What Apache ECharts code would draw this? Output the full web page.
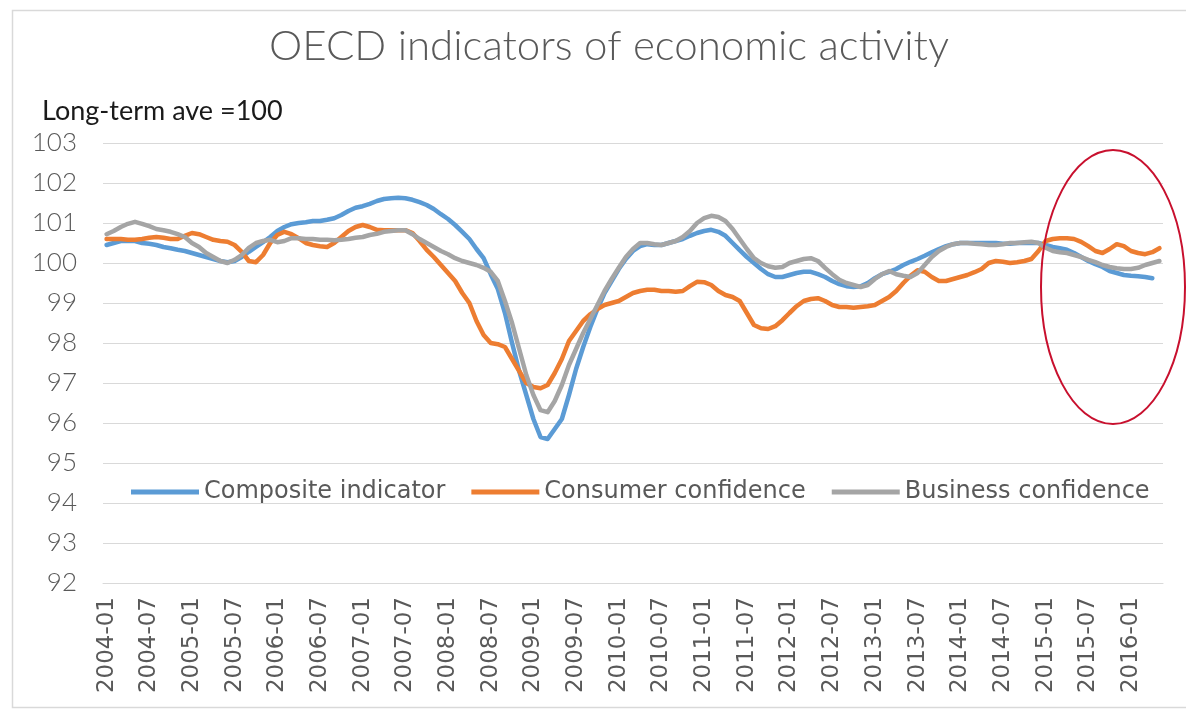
<!DOCTYPE html>
<html>
<head>
<meta charset="utf-8">
<title>OECD indicators of economic activity</title>
<script src="https://cdn.jsdelivr.net/npm/echarts@6/dist/echarts.min.js"></script>
<style>
  html, body { margin: 0; padding: 0; background: #fff; }
  #echar { width: 1186px; height: 719px; }
</style>
</head>
<body>
<div id="echar"></div>
<script>
// monthly, 2004-01 .. 2016-05
const startYear = 2004
const monthCount = 149
const months = []
for (let i = 0; i < monthCount; i++) {
  const y = startYear + Math.floor(i / 12)
  const m = (i % 12) + 1
  months.push(y + '-' + (m < 10 ? '0' + m : m))
}

const seriesNames = ['Composite indicator', 'Consumer confidence', 'Business confidence']

const composite = [
  100.45, 100.5, 100.55, 100.55, 100.55, 100.5, 100.48, 100.45, 100.4, 100.37, 100.33, 100.3,
  100.25, 100.2, 100.15, 100.1, 100.05, 100.02, 100.05, 100.15, 100.28, 100.4, 100.52, 100.65,
  100.8, 100.9, 100.97, 101.0, 101.02, 101.05, 101.05, 101.08, 101.12, 101.2, 101.3, 101.38,
  101.42, 101.48, 101.55, 101.6, 101.62, 101.63, 101.62, 101.58, 101.52, 101.45, 101.35, 101.22,
  101.1, 100.95, 100.78, 100.6, 100.35, 100.12, 99.72, 99.35, 98.75, 98.0, 97.3, 96.7,
  96.1, 95.65, 95.6, 95.85, 96.1, 96.7, 97.35, 97.9, 98.4, 98.85, 99.25, 99.55,
  99.85, 100.1, 100.3, 100.42, 100.47, 100.45, 100.45, 100.5, 100.55, 100.6, 100.68, 100.75,
  100.8, 100.83, 100.78, 100.68, 100.5, 100.32, 100.15, 100.0, 99.85, 99.72, 99.65, 99.65,
  99.7, 99.75, 99.78, 99.78, 99.72, 99.65, 99.55, 99.47, 99.42, 99.4, 99.42, 99.5,
  99.62, 99.72, 99.78, 99.85, 99.95, 100.03, 100.1, 100.18, 100.27, 100.35, 100.42, 100.47,
  100.5, 100.5, 100.5, 100.5, 100.5, 100.5, 100.48, 100.48, 100.5, 100.5, 100.5, 100.5,
  100.45, 100.4, 100.37, 100.33, 100.25, 100.15, 100.05, 99.97, 99.9, 99.8, 99.75, 99.7,
  99.68, 99.67, 99.65, 99.62, null
]

const consumer = [
  100.6, 100.6, 100.6, 100.58, 100.58, 100.6, 100.63, 100.65, 100.63, 100.6, 100.6, 100.68,
  100.75, 100.72, 100.65, 100.58, 100.55, 100.53, 100.45, 100.28, 100.05, 100.02, 100.2, 100.5,
  100.7, 100.78, 100.72, 100.62, 100.5, 100.45, 100.42, 100.4, 100.5, 100.65, 100.8, 100.9,
  100.95, 100.9, 100.83, 100.82, 100.82, 100.82, 100.82, 100.75, 100.55, 100.33, 100.15, 99.95,
  99.75, 99.55, 99.25, 99.0, 98.55, 98.2, 98.0, 97.97, 97.9, 97.6, 97.3, 97.0,
  96.9, 96.87, 96.95, 97.25, 97.6, 98.05, 98.3, 98.55, 98.72, 98.85, 98.95, 99.0,
  99.05, 99.15, 99.25, 99.3, 99.33, 99.33, 99.3, 99.3, 99.28, 99.3, 99.42, 99.53,
  99.52, 99.45, 99.3, 99.2, 99.15, 99.05, 98.75, 98.45, 98.37, 98.35, 98.42, 98.57,
  98.75, 98.92, 99.05, 99.1, 99.12, 99.05, 98.95, 98.9, 98.9, 98.88, 98.9, 98.92,
  98.95, 99.05, 99.15, 99.3, 99.5, 99.68, 99.82, 99.78, 99.65, 99.55, 99.55, 99.6,
  99.65, 99.7, 99.77, 99.85, 100.0, 100.05, 100.03, 100.0, 100.02, 100.05, 100.1, 100.3,
  100.55, 100.6, 100.62, 100.62, 100.6, 100.53, 100.42, 100.3, 100.25, 100.35, 100.47, 100.42,
  100.3, 100.25, 100.22, 100.27, 100.37
]

const business = [
  100.72, 100.8, 100.9, 100.98, 101.03, 100.98, 100.92, 100.85, 100.82, 100.78, 100.72, 100.65,
  100.5, 100.4, 100.25, 100.15, 100.05, 100.0, 100.08, 100.2, 100.38, 100.5, 100.55, 100.58,
  100.52, 100.55, 100.62, 100.62, 100.6, 100.6, 100.58, 100.58, 100.57, 100.58, 100.6, 100.63,
  100.65, 100.7, 100.73, 100.78, 100.8, 100.82, 100.82, 100.72, 100.6, 100.5, 100.4, 100.3,
  100.22, 100.12, 100.05, 100.0, 99.95, 99.88, 99.78, 99.55, 99.05, 98.5, 97.85, 97.2,
  96.7, 96.32, 96.27, 96.55, 96.95, 97.45, 97.85, 98.25, 98.6, 98.95, 99.3, 99.6,
  99.88, 100.15, 100.35, 100.5, 100.5, 100.47, 100.45, 100.5, 100.55, 100.65, 100.8, 101.0,
  101.12, 101.18, 101.15, 101.05, 100.85, 100.6, 100.35, 100.12, 100.0, 99.92, 99.88, 99.9,
  100.0, 100.05, 100.1, 100.12, 100.05, 99.88, 99.72, 99.58, 99.5, 99.45, 99.4, 99.45,
  99.6, 99.72, 99.8, 99.72, 99.68, 99.65, 99.75, 99.95, 100.15, 100.3, 100.4, 100.47,
  100.5, 100.5, 100.48, 100.47, 100.45, 100.45, 100.47, 100.5, 100.5, 100.52, 100.53, 100.5,
  100.38, 100.3, 100.27, 100.25, 100.2, 100.15, 100.08, 100.02, 99.95, 99.9, 99.87, 99.85,
  99.85, 99.88, 99.95, 100.0, 100.05
]

const yMin = 92
const yMax = 103
const colors = ['#5B9BD5', '#ED7D31', '#A5A5A5']

function lineSeries(name, data, color) {
  return {
    name: name,
    type: 'line',
    data: data,
    showSymbol: false,
    symbol: 'none',
    connectNulls: false,
    lineStyle: { width: 4.5, color: color, cap: 'round', join: 'round' },
    itemStyle: { color: color },
  }
}

const chart = echarts.init(document.getElementById('echar'))
const option = {
  animation: false,
  backgroundColor: '#fff',
  textStyle: { fontFamily: 'Lato' },
  title: [
    {
      text: 'OECD indicators of economic activity',
      left: 264,
      top: 20,
      textStyle: { fontSize: 42, fontWeight: 300, color: '#595959', fontFamily: 'Lato' },
    },
    {
      text: 'Long-term ave =100',
      left: 37,
      top: 93,
      textStyle: { fontSize: 27, fontWeight: 'normal', color: '#1a1a1a', fontFamily: 'Lato' },
    },
  ],
  legend: {
    data: seriesNames,
    left: 126,
    top: 475,
    icon: 'rect',
    itemWidth: 68,
    itemHeight: 5,
    itemGap: 26,
    textStyle: { fontSize: 24, color: '#595959', fontFamily: 'DejaVu Sans' },
  },
  grid: { left: 103, right: 23, top: 143, bottom: 136, containLabel: false },
  xAxis: {
    type: 'category',
    data: months,
    boundaryGap: true,
    axisLine: { lineStyle: { color: '#D9D9D9' } },
    axisTick: { show: false },
    axisLabel: {
      rotate: 90,
      margin: 14,
      fontSize: 23,
      color: '#595959',
      fontFamily: 'DejaVu Sans',
      interval: function (index) {
        return index % 6 === 0
      },
    },
    splitLine: { show: false },
  },
  yAxis: {
    type: 'value',
    min: yMin,
    max: yMax,
    interval: 1,
    axisLine: { show: false },
    axisTick: { show: false },
    axisLabel: { fontSize: 26, color: '#595959', margin: 26, fontFamily: 'Lato', fontWeight: 300 },
    splitLine: { lineStyle: { color: '#D9D9D9', width: 1 } },
  },
  series: [
    lineSeries(seriesNames[0], composite, colors[0]),
    lineSeries(seriesNames[1], consumer, colors[1]),
    lineSeries(seriesNames[2], business, colors[2]),
  ],
  graphic: [
    {
      type: 'rect',
      silent: true,
      z: -1,
      shape: { x: 12.5, y: 10.5, width: 1190, height: 697 },
      style: { fill: 'none', stroke: '#D9D9D9', lineWidth: 1.5 },
    },
    {
      type: 'ellipse',
      silent: true,
      z: 100,
      shape: { cx: 1113, cy: 287, rx: 72, ry: 137 },
      style: { fill: 'none', stroke: '#C8102E', lineWidth: 2 },
    },
  ],
}
chart.setOption(option)
</script>
</body>
</html>
